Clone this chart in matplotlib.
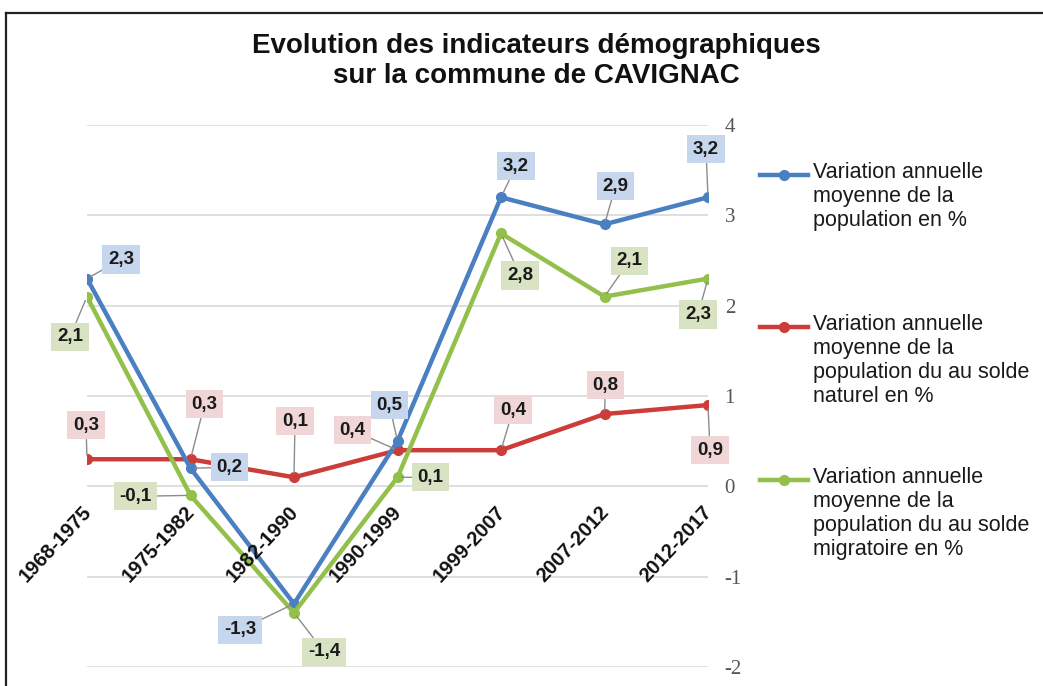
import matplotlib
matplotlib.use("Agg")
import matplotlib.pyplot as plt
from matplotlib.lines import Line2D

periods = ["1968-1975", "1975-1982", "1982-1990", "1990-1999", "1999-2007", "2007-2012", "2012-2017"]
var_totale = [2.3, 0.2, -1.3, 0.5, 3.2, 2.9, 3.2]
var_naturel = [0.3, 0.3, 0.1, 0.4, 0.4, 0.8, 0.9]
var_migratoire = [2.1, -0.1, -1.4, 0.1, 2.8, 2.1, 2.3]
y_ticks = [-2, -1, 0, 1, 2, 3, 4]

legend_labels = [
    "Variation annuelle\nmoyenne de la\npopulation en %",
    "Variation annuelle\nmoyenne de la\npopulation du au solde\nnaturel en %",
    "Variation annuelle\nmoyenne de la\npopulation du au solde\nmigratoire en %",
]
title = "Evolution des indicateurs démographiques\nsur la commune de CAVIGNAC"

colors = ["#4a7fc1", "#cc3d3a", "#93bf4b"]
box_colors = ["#c6d6ec", "#f0d6d6", "#d8e3c3"]

# label offsets in pixels (dx, dy)
offsets = [
    [(34, 19), (39, 1), (-54, -26), (-8, 36), (15, 31), (11, 38), (-2, 48)],
    [(-1, 34), (14, 55), (1, 56), (-45, 20), (12, 40), (1, 29), (2, -45)],
    [(-17, -40), (-55, -1), (30, -39), (33, 0), (19, -42), (25, 36), (-10, -36)],
]

W, H = 1043, 686
fig = plt.figure(figsize=(W / 100, H / 100), dpi=100)
ax = fig.add_axes([87 / W, 1 - 667 / H, (708 - 87) / W, (667 - 125) / H])

x = list(range(len(periods)))
ax.set_xlim(0, len(periods) - 1)
ax.set_ylim(min(y_ticks), max(y_ticks))
for t in y_ticks:
    ax.axhline(t, color="#d9d9d9", lw=1.2, zorder=0)

series = [var_totale, var_naturel, var_migratoire]
zords = [4, 3, 5]
for s, vals in enumerate(series):
    ax.plot(x, vals, color=colors[s], lw=3.2, marker="o", ms=7, zorder=zords[s])

for s, vals in enumerate(series):
    for i, v in enumerate(vals):
        ax.annotate(f"{v:.1f}".replace(".", ","), xy=(i, v), xytext=offsets[s][i],
                    textcoords="offset pixels", ha="center", va="center",
                    fontsize=13.5, fontweight="bold", family="Liberation Sans",
                    color="#1a1a1a",
                    bbox=dict(boxstyle="square,pad=0.3", fc=box_colors[s], ec="none"),
                    arrowprops=dict(arrowstyle="-", color="#8c8c8c", lw=1,
                                    shrinkA=0, shrinkB=3),
                    zorder=6)

for i, p in enumerate(periods):
    ax.annotate(p, xy=(i, 0), xytext=(8, -16), textcoords="offset pixels",
                rotation=47, ha="right", va="top", fontsize=14.5, fontweight="bold",
                family="Liberation Sans", color="#111111", zorder=7)

ax.set_xticks([])
ax.yaxis.tick_right()
ax.set_yticks(y_ticks)
ax.set_yticklabels([str(t) for t in y_ticks], family="Liberation Serif", fontsize=15, color="#555555")
ax.tick_params(axis="y", length=0, pad=12)
for sp in ax.spines.values():
    sp.set_visible(False)

fig.text(536 / W, 1 - 61 / H, title, ha="center", va="center", fontsize=20,
         fontweight="bold", family="Liberation Sans", linespacing=1.18, color="#111111")

# legend (manual)
leg_y = [175, 327, 480]
for s in range(3):
    yf = 1 - leg_y[s] / H
    fig.add_artist(Line2D([760 / W, 808 / W], [yf, yf], transform=fig.transFigure,
                          color=colors[s], lw=3.2))
    fig.add_artist(Line2D([784 / W], [yf], transform=fig.transFigure, color=colors[s],
                          marker="o", ms=7))
    fig.text(813 / W, 1 - (leg_y[s] - 13) / H, legend_labels[s], ha="left", va="top",
             fontsize=15.5, family="Liberation Sans", color="#1a1a1a", linespacing=1.18)

# frame lines
fig.add_artist(Line2D([6 / W, 1], [1 - 13 / H, 1 - 13 / H], transform=fig.transFigure, color="#222222", lw=1.6))
fig.add_artist(Line2D([6 / W, 6 / W], [0, 1 - 13 / H], transform=fig.transFigure, color="#222222", lw=1.6))

fig.savefig("out.png", dpi=100)
